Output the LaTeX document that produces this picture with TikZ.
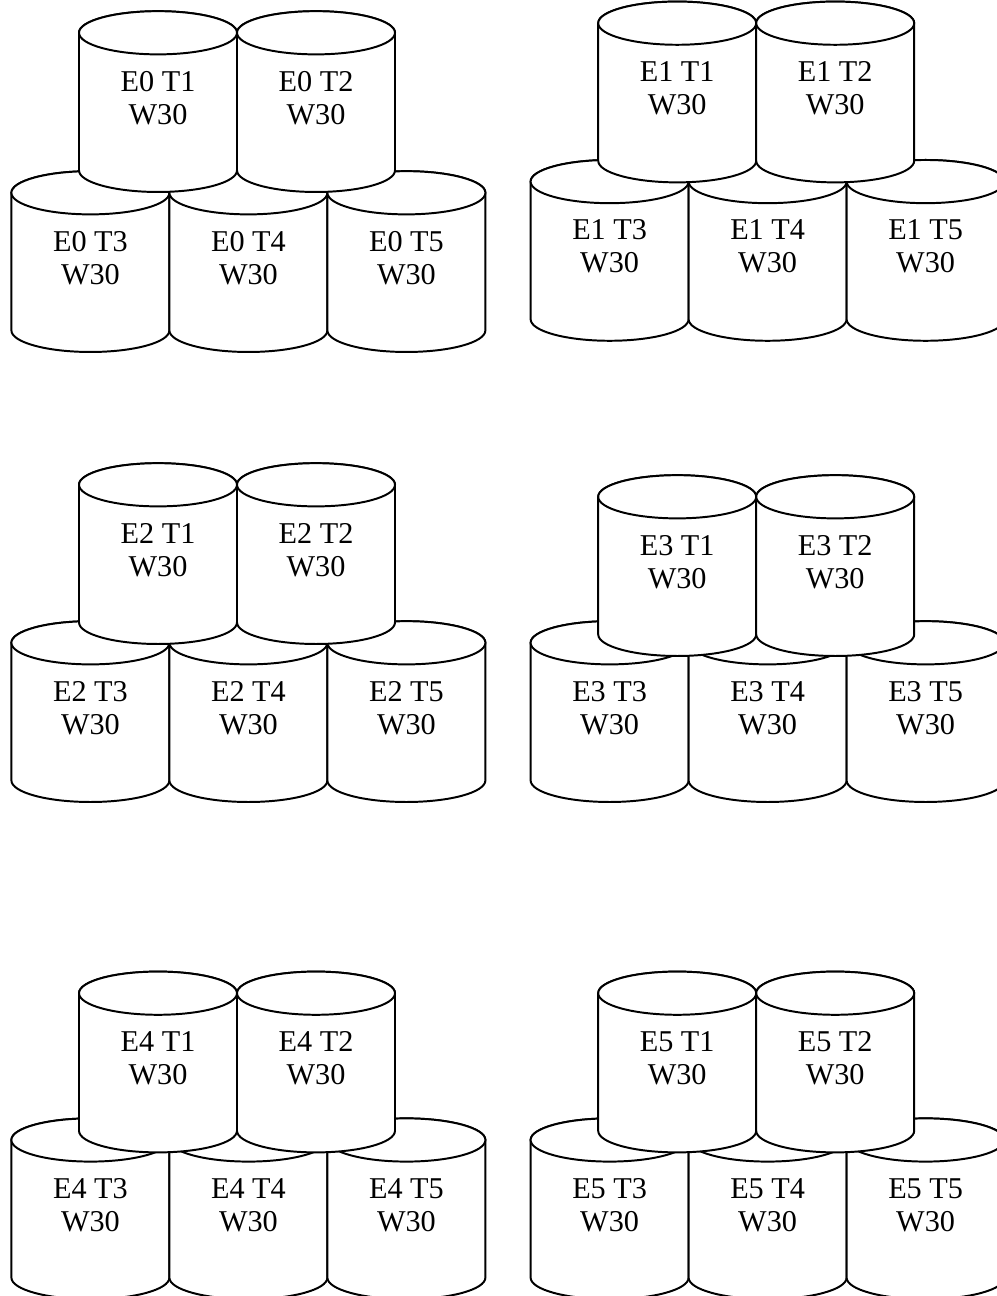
\documentclass[tikz,border=0pt]{standalone}
\usepackage{fontspec}
\setmainfont{Liberation Serif}
\usepackage{xcolor}
\usepackage{tikz}
\usetikzlibrary{calc}
\definecolor{zw}{RGB}{0,0,0}
\tikzset{
  can/.style={draw=zw,fill=white,line width=1.4pt},
  lbl/.style={align=center,inner sep=0pt,font=\fontsize{21.5}{23.5}\selectfont}
}
% #1 = name, #2 = centre of the top ellipse, #3 = label
\newcommand{\Can}[3]{%
  \filldraw[can] ($(#2)+(-1.975,0)$) -- ++(0,-3.44)
    arc[start angle=180,end angle=360,x radius=1.975,y radius=0.54]
    -- ++(0,3.44)
    arc[start angle=0,end angle=180,x radius=1.975,y radius=0.54] -- cycle;
  \draw[can] (#2) ellipse[x radius=1.975,y radius=0.54];
  \node[lbl] (#1) at ($(#2)+(0,-1.625)$) {#3};
}

\begin{document}
\begin{tikzpicture}[x=1cm,y=1cm]
  \useasboundingbox (0,0) rectangle (24.9,32.4);

  % group E0
  \Can{e0t3}{2.26,27.58}{E0 T3\\W30}
  \Can{e0t4}{6.21,27.58}{E0 T4\\W30}
  \Can{e0t5}{10.16,27.58}{E0 T5\\W30}
  \Can{e0t1}{3.95,31.58}{E0 T1\\W30}
  \Can{e0t2}{7.90,31.58}{E0 T2\\W30}

  % group E1
  \Can{e1t3}{15.24,27.86}{E1 T3\\W30}
  \Can{e1t4}{19.19,27.86}{E1 T4\\W30}
  \Can{e1t5}{23.14,27.86}{E1 T5\\W30}
  \Can{e1t1}{16.93,31.82}{E1 T1\\W30}
  \Can{e1t2}{20.88,31.82}{E1 T2\\W30}

  % group E2
  \Can{e2t3}{2.26,16.33}{E2 T3\\W30}
  \Can{e2t4}{6.21,16.33}{E2 T4\\W30}
  \Can{e2t5}{10.16,16.33}{E2 T5\\W30}
  \Can{e2t1}{3.95,20.28}{E2 T1\\W30}
  \Can{e2t2}{7.90,20.28}{E2 T2\\W30}

  % group E3
  \Can{e3t3}{15.24,16.33}{E3 T3\\W30}
  \Can{e3t4}{19.19,16.33}{E3 T4\\W30}
  \Can{e3t5}{23.14,16.33}{E3 T5\\W30}
  \Can{e3t1}{16.93,19.98}{E3 T1\\W30}
  \Can{e3t2}{20.88,19.98}{E3 T2\\W30}

  % group E4
  \Can{e4t3}{2.26,3.90}{E4 T3\\W30}
  \Can{e4t4}{6.21,3.90}{E4 T4\\W30}
  \Can{e4t5}{10.16,3.90}{E4 T5\\W30}
  \Can{e4t1}{3.95,7.57}{E4 T1\\W30}
  \Can{e4t2}{7.90,7.57}{E4 T2\\W30}

  % group E5
  \Can{e5t3}{15.24,3.90}{E5 T3\\W30}
  \Can{e5t4}{19.19,3.90}{E5 T4\\W30}
  \Can{e5t5}{23.14,3.90}{E5 T5\\W30}
  \Can{e5t1}{16.93,7.57}{E5 T1\\W30}
  \Can{e5t2}{20.88,7.57}{E5 T2\\W30}
\end{tikzpicture}
\end{document}
